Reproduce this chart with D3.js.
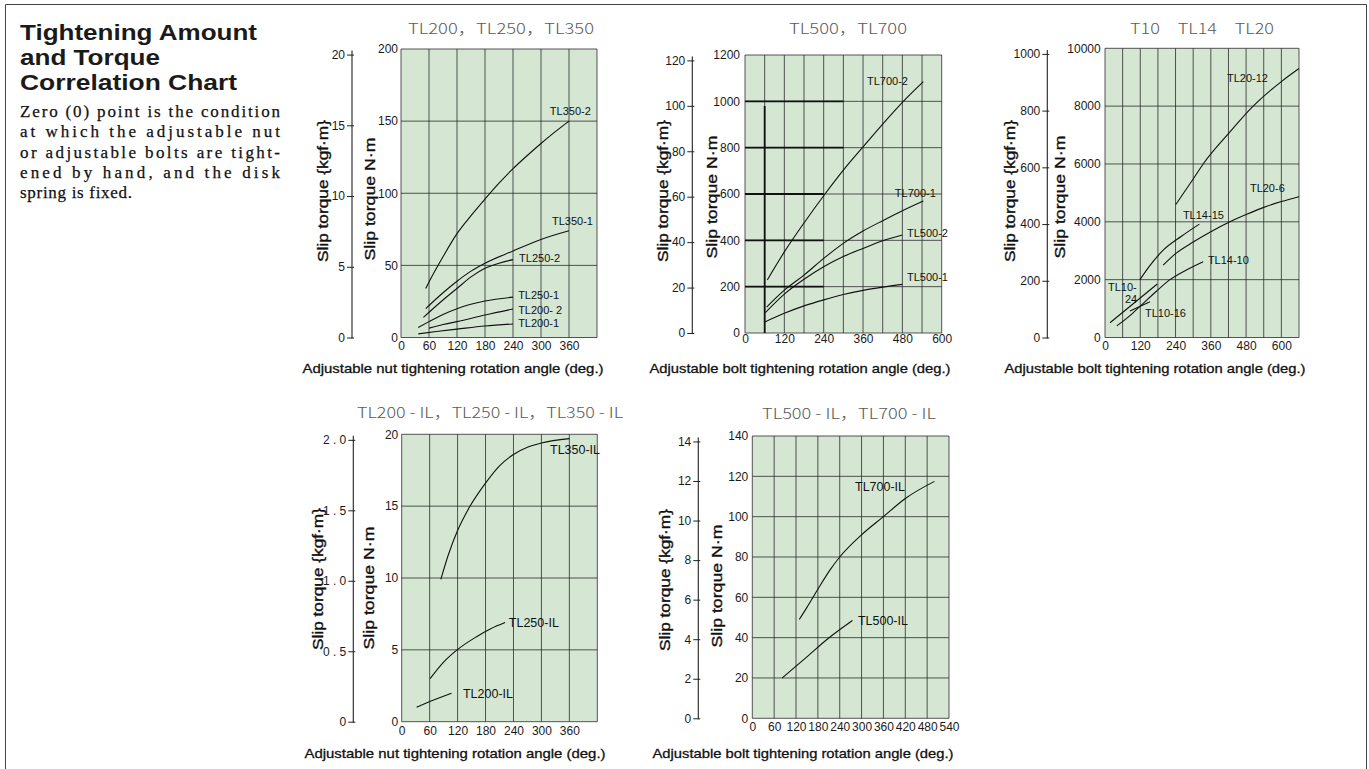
<!DOCTYPE html>
<html>
<head>
<meta charset="utf-8">
<script src="https://cdn.jsdelivr.net/npm/d3@7"></script>
<style>
  html, body { margin: 0; padding: 0; background: #fff; }
  svg { display: block; }
</style>
</head>
<body>
<svg id="chart" width="1369" height="769"></svg>
<script>
// 1 kgf·m expressed in N·m, used to place the secondary torque scale
const KGF = 9.80665;

// ---------- TL200 / TL250 / TL350 : [nut angle (deg), slip torque (N·m)] ----------
const tl350_2 = [[53,34],[60,38.5],[90,56],[120,72],[150,84.5],[180,96],[210,107],[240,117],[270,126],[300,134.5],[330,142.5],[360,150]];
const tl350_1 = [[53,20],[90,31],[120,39],[150,46],[180,51.5],[240,60],[300,68],[360,74]];
const tl250_2 = [[48,14],[90,26],[120,34],[150,42],[180,48],[210,51.5],[240,54]];
const tl250_1 = [[37,7],[60,11],[90,16],[120,20],[180,25.3],[240,28]];
const tl200_2 = [[60,6.5],[90,9],[120,11],[180,15.6],[240,19.8]];
const tl200_1 = [[37,2.5],[80,4.3],[120,5.8],[180,8],[240,9.4]];

// ---------- TL500 / TL700 : [bolt angle (deg), slip torque (N·m)] ----------
const tl700_2 = [[68,229],[120,350],[180,475],[244,600],[300,703],[358,800],[420,902],[483,1000],[544,1085]];
const tl700_1 = [[66,112],[120,185],[180,250],[240,322],[300,387],[360,440],[420,485],[480,528],[544,570]];
const tl500_2 = [[62,88],[120,168],[180,232],[240,286],[300,330],[360,365],[420,398],[480,423]];
const tl500_1 = [[61,48],[120,85],[180,117],[240,143],[300,166],[360,184],[420,198],[480,210]];

// ---------- T10 / TL14 / TL20 : [bolt angle (deg), slip torque (N·m)] ----------
const tl20_12 = [[241,4600],[300,5480],[334,6000],[420,7050],[504,8000],[600,8850],[660,9300]];
const tl20_6  = [[198,2500],[240,2900],[300,3300],[357,3640],[425,4000],[480,4250],[540,4500],[600,4700],[660,4870]];
const tl14_15 = [[119,2000],[150,2450],[198,3020],[260,3500],[321,3920]];
const tl14_10 = [[40,400],[90,800],[130,1180],[175,1600],[221,2000],[280,2350],[334,2620]];
const tl10_24 = [[17,510],[100,1200],[178,1850]];
const tl10_16 = [[85,920],[153,1240]];

// ---------- TL200-IL / TL250-IL / TL350-IL ----------
const tl350_il = [[84,9.9],[100,11.6],[120,13.3],[145,14.9],[180,16.6],[210,17.8],[240,18.6],[270,19.1],[300,19.4],[360,19.7]];
const tl250_il = [[61,3],[90,4.15],[121,5.05],[160,5.9],[190,6.45],[222,6.9]];
const tl200_il = [[32,1],[70,1.52],[107,1.98]];

// ---------- TL500-IL / TL700-IL ----------
const tl700_il = [[129,49],[150,55],[180,64],[213,73.5],[240,80],[300,91],[360,100],[420,109],[500,117.5]];
const tl500_il = [[82,20],[150,30.5],[209,39.7],[275,48.5]];

// ---------- axis ticks ----------
const angleTicksNut   = [0,60,120,180,240,300,360];
const angleTicksBolt  = [0,120,240,360,480,600];
const angleTicksBoltIL = [0,60,120,180,240,300,360,420,480,540];
const nmTicks1 = [0,50,100,150,200];
const nmTicks2 = [0,200,400,600,800,1000,1200];
const nmTicks3 = [0,2000,4000,6000,8000,10000];
const nmTicks4 = [0,5,10,15,20];
const nmTicks5 = [0,20,40,60,80,100,120,140];
const kgfTicks1 = [0,5,10,15,20];
const kgfTicks2 = [0,20,40,60,80,100,120];
const kgfTicks3 = [0,200,400,600,800,1000];
const kgfTicks4 = [0,0.5,1.0,1.5,2.0];
const kgfTicks5 = [0,2,4,6,8,10,12,14];

// reinforced rules drawn on the TL500/TL700 grid: [N·m, from deg, to deg]
const heavyRules = [[1000,0,300],[800,0,300],[600,0,240],[400,0,240],[200,0,240]];
// reinforced vertical rule: [deg, from N·m, to N·m]
const heavyPost = [60,0,980];

const BG = '#d5e7d3';
const GRID = '#2b2b2b';
const SANS = '"Liberation Sans", Arial, Helvetica, sans-serif';
const ROUND = '"Noto Sans CJK JP", "Noto Sans", sans-serif';

const svg = d3.select('#chart');

// outer frame
svg.append('path')
  .attr('d', 'M5.5,769 V4.5 H1366.5 V769')
  .attr('fill', 'none').attr('stroke', '#444').attr('stroke-width', 1);

// heading and note
const heading = ['Tightening Amount', 'and Torque', 'Correlation Chart'];
const headingWidths = [237, 140, 217];
svg.append('g').selectAll('text').data(heading).join('text')
  .attr('x', 20).attr('y', (d, i) => 40 + i * 25)
  .attr('font-family', SANS).attr('font-weight', 'bold').attr('font-size', 21.5)
  .attr('fill', '#1a1a1a')
  .attr('textLength', (d, i) => headingWidths[i]).attr('lengthAdjust', 'spacingAndGlyphs')
  .text(d => d);

const note = ['Zero (0) point is the condition', 'at which the adjustable nut',
  'or adjustable bolts are tight-', 'ened by hand, and the disk', 'spring is fixed.'];
svg.append('g').selectAll('text').data(note).join('text')
  .attr('x', 20).attr('y', (d, i) => 117 + i * 20.3)
  .attr('font-family', '"Liberation Serif", "Times New Roman", serif')
  .attr('font-size', 17).attr('fill', '#111')
  .attr('stroke', '#111').attr('stroke-width', 0.25)
  .attr('textLength', (d, i) => i < note.length - 1 ? 260 : 112)
  .attr('lengthAdjust', 'spacing')
  .text(d => d);

const panels = [
  {
    title: 'TL200，TL250，TL350', titleX: 501, titleY: 34, titleW: 186,
    x0: 401, x1: 597, yT: 49, yB: 337.5, xMax: 420, yMax: 200, xStep: 60, yStep: 50,
    xTicks: angleTicksNut, xLabelY: 350, yTicks: nmTicks1, nLabelX: 398,
    kgfTicks: kgfTicks1, kgfFmt: d => String(d), kgfX: 352,
    kgfTitleX: 323, kgfTitleY: 191, nTitleX: 370, nTitleY: 199,
    xTitle: 'Adjustable nut tightening rotation angle (deg.)', xTitleX: 453, xTitleY: 373,
    labelSize: 11,
    series: [
      {data: tl350_2, name: 'TL350-2', at: [319,156.6]},
      {data: tl350_1, name: 'TL350-1', at: [323.5,80.4]},
      {data: tl250_2, name: 'TL250-2', at: [253,55.2]},
      {data: tl250_1, name: 'TL250-1', at: [251,29.5]},
      {data: tl200_2, name: 'TL200- 2', at: [251,19.1]},
      {data: tl200_1, name: 'TL200-1', at: [251,10.1]}
    ]
  },
  {
    title: 'TL500，TL700', titleX: 848, titleY: 34, titleW: 118,
    x0: 745, x1: 941.7, yT: 55, yB: 333, xMax: 600, yMax: 1200, xStep: 60, yStep: 200,
    xTicks: angleTicksBolt, xLabelY: 343, yTicks: nmTicks2, nLabelX: 740,
    kgfTicks: kgfTicks2, kgfFmt: d => String(d), kgfX: 692.3,
    kgfTitleX: 663, kgfTitleY: 191, nTitleX: 712, nTitleY: 197,
    xTitle: 'Adjustable bolt tightening rotation angle (deg.)', xTitleX: 800, xTitleY: 373,
    labelSize: 11, heavy: true,
    series: [
      {data: tl700_2, name: 'TL700-2', at: [372,1085]},
      {data: tl700_1, name: 'TL700-1', at: [457,604]},
      {data: tl500_2, name: 'TL500-2', at: [494,433]},
      {data: tl500_1, name: 'TL500-1', at: [494,243]}
    ]
  },
  {
    title: 'T10　TL14　TL20', titleX: 1202, titleY: 34, titleW: 144,
    x0: 1105, x1: 1299, yT: 48.3, yB: 337.5, xMax: 660, yMax: 10000, xStep: 60, yStep: 2000,
    xTicks: angleTicksBolt, xLabelY: 350, yTicks: nmTicks3, nLabelX: 1100.7,
    kgfTicks: kgfTicks3, kgfFmt: d => String(d), kgfX: 1047.3,
    kgfTitleX: 1010, kgfTitleY: 191, nTitleX: 1060, nTitleY: 197,
    xTitle: 'Adjustable bolt tightening rotation angle (deg.)', xTitleX: 1155, xTitleY: 373,
    labelSize: 11,
    series: [
      {data: tl20_12, name: 'TL20-12', at: [415,8983]},
      {data: tl20_6, name: 'TL20-6', at: [493,5159]},
      {data: tl14_15, name: 'TL14-15', at: [265,4236]},
      {data: tl14_10, name: 'TL14-10', at: [350,2680]},
      {data: tl10_16, name: 'TL10-16', at: [136,837]},
      {data: tl10_24, name: 'TL10-', at: [10,1736], extra: {name: '24', at: [68,1331]}}
    ]
  },
  {
    title: 'TL200 - IL，TL250 - IL，TL350 - IL', titleX: 490, titleY: 418, titleW: 266,
    x0: 401.7, x1: 597.3, yT: 434.3, yB: 721.7, xMax: 420, yMax: 20, xStep: 60, yStep: 5,
    xTicks: angleTicksNut, xLabelY: 735, yTicks: nmTicks4, nLabelX: 398.3,
    kgfTicks: kgfTicks4, kgfFmt: d => d === 0 ? '0' : d3.format('.1f')(d).split('').join(' '), kgfX: 353.3,
    kgfTitleX: 318, kgfTitleY: 579, nTitleX: 369, nTitleY: 588,
    xTitle: 'Adjustable nut tightening rotation angle (deg.)', xTitleX: 455, xTitleY: 758,
    labelSize: 12.5,
    series: [
      {data: tl350_il, name: 'TL350-IL', at: [318.5,18.9]},
      {data: tl250_il, name: 'TL250-IL', at: [230,6.9]},
      {data: tl200_il, name: 'TL200-IL', at: [131.6,1.98]}
    ]
  },
  {
    title: 'TL500 - IL，TL700 - IL', titleX: 849, titleY: 419, titleW: 174,
    x0: 752.3, x1: 949, yT: 436, yB: 718.3, xMax: 540, yMax: 140, xStep: 60, yStep: 20,
    xTicks: angleTicksBoltIL, xLabelY: 731, yTicks: nmTicks5, nLabelX: 748.3,
    kgfTicks: kgfTicks5, kgfFmt: d => String(d), kgfX: 698.3,
    kgfTitleX: 665, kgfTitleY: 580, nTitleX: 717, nTitleY: 586,
    xTitle: 'Adjustable bolt tightening rotation angle (deg.)', xTitleX: 803, xTitleY: 758,
    labelSize: 12.5,
    series: [
      {data: tl700_il, name: 'TL700-IL', at: [282,114.9]},
      {data: tl500_il, name: 'TL500-IL', at: [290,48.4]}
    ]
  }
];

panels.forEach(drawPanel);

function drawPanel(p) {
  const g = svg.append('g');
  const x = d3.scaleLinear().domain([0, p.xMax]).range([p.x0, p.x1]);
  const y = d3.scaleLinear().domain([0, p.yMax]).range([p.yB, p.yT]);
  // secondary scale in kgf·m shares the same physical torque positions
  const yk = d3.scaleLinear().domain([0, p.yMax / KGF]).range([p.yB, p.yT]);

  // plot background
  g.append('rect')
    .attr('x', x(0)).attr('y', y(p.yMax))
    .attr('width', x(p.xMax) - x(0)).attr('height', y(0) - y(p.yMax))
    .attr('fill', BG);

  // grid
  const xs = d3.range(0, p.xMax + 0.001, p.xStep);
  const ys = d3.range(0, p.yMax + 0.001, p.yStep);
  g.append('g').selectAll('line').data(xs).join('line')
    .attr('x1', d => x(d)).attr('x2', d => x(d))
    .attr('y1', y(0)).attr('y2', y(p.yMax))
    .attr('stroke', GRID).attr('stroke-width', 0.8);
  g.append('g').selectAll('line').data(ys).join('line')
    .attr('x1', x(0)).attr('x2', x(p.xMax))
    .attr('y1', d => y(d)).attr('y2', d => y(d))
    .attr('stroke', GRID).attr('stroke-width', 0.8);

  if (p.heavy) {
    g.append('g').selectAll('line').data(heavyRules).join('line')
      .attr('x1', d => x(d[1])).attr('x2', d => x(d[2]))
      .attr('y1', d => y(d[0])).attr('y2', d => y(d[0]))
      .attr('stroke', '#111').attr('stroke-width', 1.8);
    g.append('line')
      .attr('x1', x(heavyPost[0])).attr('x2', x(heavyPost[0]))
      .attr('y1', y(heavyPost[1])).attr('y2', y(heavyPost[2]))
      .attr('stroke', '#111').attr('stroke-width', 1.8);
  }

  // N·m tick labels
  const nAxis = g.append('g')
    .attr('transform', `translate(${p.nLabelX + 2},0)`)
    .call(d3.axisLeft(y).tickValues(p.yTicks).tickSize(0).tickPadding(2).tickFormat(d3.format('d')));
  nAxis.select('.domain').remove();
  nAxis.selectAll('text').attr('font-family', SANS).attr('font-size', 12).attr('fill', '#1a1a1a');

  // angle tick labels
  const xAxis = g.append('g')
    .attr('transform', `translate(0,${p.xLabelY})`)
    .call(d3.axisBottom(x).tickValues(p.xTicks).tickSize(0).tickPadding(0).tickFormat(d3.format('d')));
  xAxis.select('.domain').remove();
  xAxis.selectAll('text').attr('dy', null).attr('y', 0)
    .attr('font-family', SANS).attr('font-size', 12).attr('fill', '#1a1a1a');

  // kgf·m axis
  const kAxis = g.append('g')
    .attr('transform', `translate(${p.kgfX},0)`)
    .call(d3.axisLeft(yk).tickValues(p.kgfTicks).tickSizeInner(5).tickSizeOuter(0).tickPadding(2).tickFormat(p.kgfFmt));
  kAxis.select('.domain').attr('stroke', '#222').attr('stroke-width', 1.1)
    .attr('d', `M0,${yk(p.kgfTicks[p.kgfTicks.length - 1]) - 4}V${yk(0) + 1}`);
  kAxis.selectAll('.tick line').attr('x1', 2).attr('stroke', '#222');
  kAxis.selectAll('text').attr('font-family', SANS).attr('font-size', 12).attr('fill', '#1a1a1a');

  // rotated axis titles
  g.append('text')
    .attr('transform', `translate(${p.kgfTitleX},${p.kgfTitleY}) rotate(-90)`)
    .attr('text-anchor', 'middle').attr('dy', '0.35em')
    .attr('font-family', SANS).attr('font-size', 14.5).attr('fill', '#111')
    .attr('stroke', '#111').attr('stroke-width', 0.35)
    .attr('textLength', 142).attr('lengthAdjust', 'spacingAndGlyphs')
    .text('Slip torque {kgf·m}');
  g.append('text')
    .attr('transform', `translate(${p.nTitleX},${p.nTitleY}) rotate(-90)`)
    .attr('text-anchor', 'middle').attr('dy', '0.35em')
    .attr('font-family', SANS).attr('font-size', 14.5).attr('fill', '#111')
    .attr('stroke', '#111').attr('stroke-width', 0.35)
    .attr('textLength', 123).attr('lengthAdjust', 'spacingAndGlyphs')
    .text('Slip torque N·m');

  // horizontal axis title
  g.append('text')
    .attr('x', p.xTitleX).attr('y', p.xTitleY)
    .attr('text-anchor', 'middle')
    .attr('font-family', SANS).attr('font-size', 13).attr('fill', '#111')
    .attr('stroke', '#111').attr('stroke-width', 0.3)
    .attr('textLength', 301).attr('lengthAdjust', 'spacingAndGlyphs')
    .text(p.xTitle);

  // panel title
  g.append('text')
    .attr('x', p.titleX).attr('y', p.titleY)
    .attr('text-anchor', 'middle')
    .attr('font-family', ROUND).attr('font-weight', 300).attr('font-size', 15).attr('fill', '#5a5a5a')
    .attr('textLength', p.titleW).attr('lengthAdjust', 'spacingAndGlyphs')
    .text(p.title);

  // curves
  const line = d3.line().x(d => x(d[0])).y(d => y(d[1])).curve(d3.curveMonotoneX);
  g.append('g').selectAll('path').data(p.series).join('path')
    .attr('d', s => line(s.data))
    .attr('fill', 'none').attr('stroke', '#111').attr('stroke-width', 1.1);

  // curve names
  const names = [];
  p.series.forEach(s => {
    names.push({name: s.name, at: s.at});
    if (s.extra) names.push(s.extra);
  });
  g.append('g').selectAll('text').data(names).join('text')
    .attr('x', d => x(d.at[0])).attr('y', d => y(d.at[1]))
    .attr('dy', '0.35em')
    .attr('font-family', SANS).attr('font-size', p.labelSize).attr('fill', '#111')
    .text(d => d.name);
}
</script>
</body>
</html>
